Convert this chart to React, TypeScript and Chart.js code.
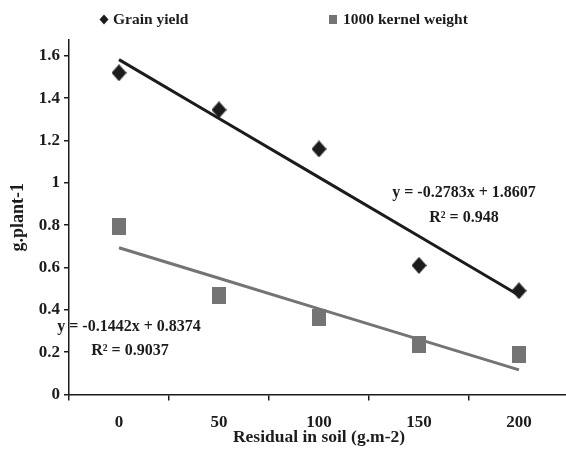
import React, { useEffect, useRef } from 'react';
import { Chart, registerables } from 'chart.js';

Chart.register(...registerables);

// ---- data ----
const categories = ['0', '50', '100', '150', '200'];
const grainYield = [1.52, 1.345, 1.16, 0.61, 0.49];
const kernelWeight = [0.792, 0.47, 0.365, 0.234, 0.187];
const grainTrend = [1.5824, 1.3041, 1.0258, 0.7475, 0.4692];
const kernelTrend = [0.6932, 0.549, 0.4048, 0.2606, 0.1164];
const yTicks = [0, 0.2, 0.4, 0.6, 0.8, 1, 1.2, 1.4, 1.6];
const legendLabels = ['Grain yield', '1000 kernel weight'];
const grainEquation = ['y = -0.2783x + 1.8607', 'R\u00B2 = 0.948'];
const kernelEquation = ['y = -0.1442x + 0.8374', 'R\u00B2 = 0.9037'];
const xTitle = 'Residual in soil (g.m-2)';
const yTitle = 'g.plant-1';

const FONT = '"Liberation Serif", "Times New Roman", serif';
const DARK = '#1c1c1c';
const GRAY = '#747474';

function makeMarker(kind: 'diamond' | 'rect', w: number, h: number, color: string) {
  const c = document.createElement('canvas');
  c.width = w;
  c.height = h;
  const g = c.getContext('2d')!;
  g.fillStyle = color;
  if (kind === 'rect') {
    g.fillRect(0, 0, w, h);
  } else {
    g.beginPath();
    g.moveTo(w / 2, 0);
    g.lineTo(w, h / 2);
    g.lineTo(w / 2, h);
    g.lineTo(0, h / 2);
    g.closePath();
    g.fill();
  }
  return c;
}

const overlayPlugin = {
  id: 'overlay',
  afterDraw(chart: any) {
    const ctx = chart.ctx;
    const xs = chart.scales.x;
    const ys = chart.scales.y;
    ctx.save();
    ctx.fillStyle = DARK;
    ctx.textBaseline = 'middle';
    // equations
    ctx.font = `bold 16px ${FONT}`;
    ctx.textAlign = 'center';
    ctx.fillText(grainEquation[0], xs.getPixelForValue(3.45), ys.getPixelForValue(0.953));
    ctx.fillText(grainEquation[1], xs.getPixelForValue(3.45), ys.getPixelForValue(0.834));
    ctx.fillText(kernelEquation[0], xs.getPixelForValue(0.1), ys.getPixelForValue(0.319));
    ctx.fillText(kernelEquation[1], xs.getPixelForValue(0.11), ys.getPixelForValue(0.206));
    // legend
    ctx.font = `bold 15.5px ${FONT}`;
    ctx.textAlign = 'left';
    const ly = 19.5;
    ctx.fillStyle = DARK;
    ctx.beginPath();
    ctx.moveTo(104, ly - 5);
    ctx.lineTo(108.5, ly);
    ctx.lineTo(104, ly + 5);
    ctx.lineTo(99.5, ly);
    ctx.closePath();
    ctx.fill();
    ctx.fillText(legendLabels[0], 113, ly);
    ctx.fillStyle = GRAY;
    ctx.fillRect(329, ly - 4.5, 8, 9);
    ctx.fillStyle = DARK;
    ctx.fillText(legendLabels[1], 343, ly);
    ctx.restore();
  },
};

export default function App() {
  const ref = useRef<HTMLCanvasElement>(null);
  useEffect(() => {
    if (!ref.current) return;
    const diamond = makeMarker('diamond', 15, 17, DARK);
    const square = makeMarker('rect', 14, 17, GRAY);
    const chart = new Chart(ref.current, {
      type: 'line',
      data: {
        labels: categories,
        datasets: [
          {
            label: 'Grain yield trend',
            data: grainTrend,
            borderColor: DARK,
            borderWidth: 3,
            pointRadius: 0,
            fill: false,
            order: 3,
          },
          {
            label: '1000 kernel weight trend',
            data: kernelTrend,
            borderColor: GRAY,
            borderWidth: 3,
            pointRadius: 0,
            fill: false,
            order: 4,
          },
          {
            label: legendLabels[0],
            data: grainYield,
            showLine: false,
            pointStyle: diamond,
            pointRadius: 8,
            backgroundColor: DARK,
            borderColor: DARK,
            borderWidth: 0,
            order: 1,
          },
          {
            label: legendLabels[1],
            data: kernelWeight,
            showLine: false,
            pointStyle: square,
            pointRadius: 9,
            backgroundColor: GRAY,
            borderColor: GRAY,
            borderWidth: 0,
            order: 2,
          },
        ],
      },
      options: {
        animation: false,
        responsive: false,
        layout: { padding: { top: 40, left: 0, right: 0, bottom: 0 } },
        plugins: {
          legend: { display: false },
          tooltip: { enabled: false },
        },
        scales: {
          x: {
            type: 'category',
            offset: true,
            grid: {
              offset: true,
              drawOnChartArea: false,
              drawTicks: true,
              tickLength: 6,
              color: DARK,
              lineWidth: 1.5,
            },
            border: { display: true, color: DARK, width: 1.5 },
            ticks: {
              color: DARK,
              padding: 12,
              font: { family: FONT, size: 17, weight: 'bold' },
            },
            title: {
              display: true,
              text: xTitle,
              color: DARK,
              padding: { top: 0, bottom: 13 },
              font: { family: FONT, size: 17.5, weight: 'bold', lineHeight: 1.2 },
            },
            afterFit: (s: any) => {
              s.height = 66.5;
            },
          },
          y: {
            min: 0,
            max: 1.675,
            ticks: {
              color: DARK,
              padding: 4,
              font: { family: FONT, size: 17, weight: 'bold' },
              callback: (v: any) => String(Math.round(Number(v) * 10) / 10),
            },
            afterBuildTicks: (s: any) => {
              s.ticks = yTicks.map((v) => ({ value: v }));
            },
            grid: {
              drawOnChartArea: false,
              drawTicks: true,
              tickLength: 5,
              color: DARK,
              lineWidth: 1.5,
            },
            border: { display: true, color: DARK, width: 1.5 },
            title: {
              display: true,
              text: yTitle,
              color: DARK,
              padding: { top: 8, bottom: 0 },
              font: { family: FONT, size: 18, weight: 'bold', lineHeight: 1.2 },
            },
            afterFit: (s: any) => {
              s.width = 69;
            },
          },
        },
      },
      plugins: [overlayPlugin],
    });
    return () => chart.destroy();
  }, []);
  return (
    <div
      style={{
        position: 'fixed',
        left: 0,
        top: 0,
        width: 566,
        height: 461,
        overflow: 'hidden',
        background: '#fff',
      }}
    >
      <canvas ref={ref} width={578} height={461} style={{ display: 'block' }} />
    </div>
  );
}
